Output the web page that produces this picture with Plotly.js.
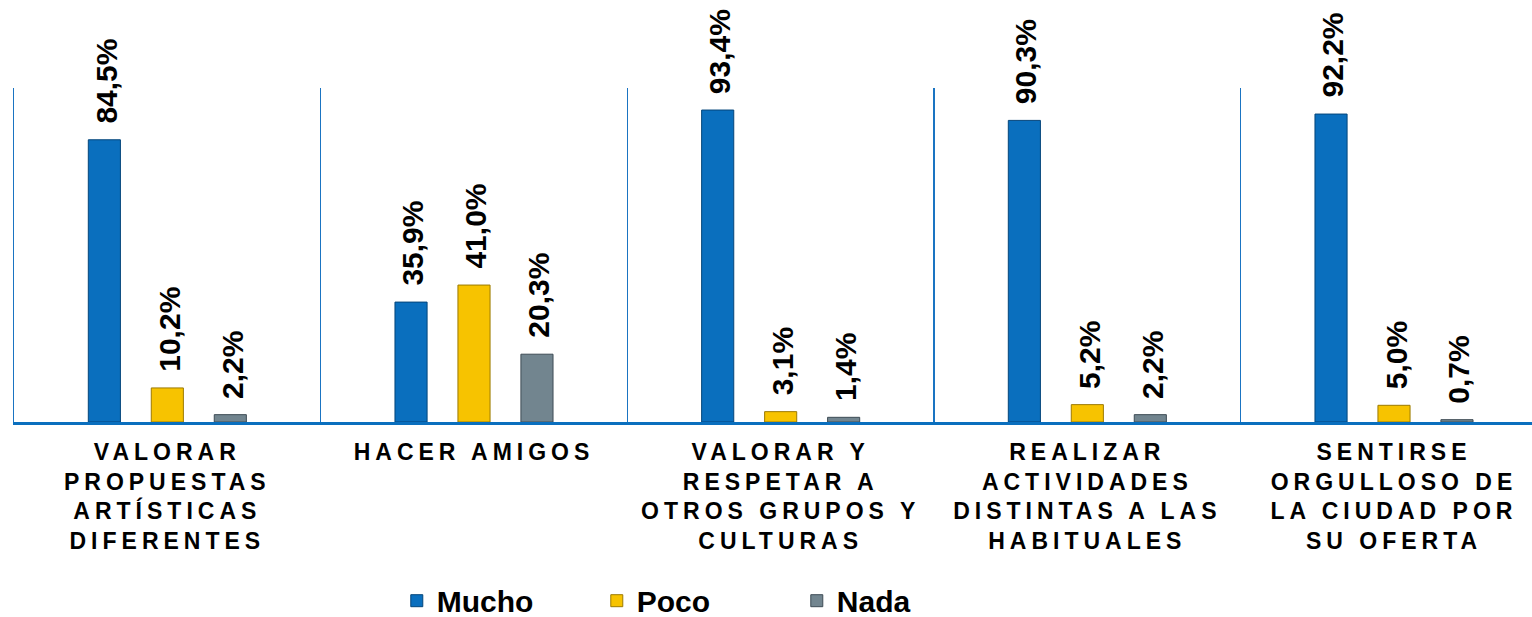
<!DOCTYPE html>
<html>
<head>
<meta charset="utf-8">
<script src="https://cdn.plot.ly/plotly-3.0.1.min.js"></script>
<style>
  html, body { margin: 0; padding: 0; background: #fff; }
  #chart { width: 1532px; height: 617px; }
  .xtick text { letter-spacing: 5px; }
</style>
</head>
<body>
<div id="chart"></div>
<script>
const categories = [
  "VALORAR<br>PROPUESTAS<br>ARTÍSTICAS<br>DIFERENTES",
  "HACER AMIGOS",
  "VALORAR Y<br>RESPETAR A<br>OTROS GRUPOS Y<br>CULTURAS",
  "REALIZAR<br>ACTIVIDADES<br>DISTINTAS A LAS<br>HABITUALES",
  "SENTIRSE<br>ORGULLOSO DE<br>LA CIUDAD POR<br>SU OFERTA"
];
const seriesNames = ["Mucho", "Poco", "Nada"];
const mucho = [84.5, 35.9, 93.4, 90.3, 92.2];
const poco  = [10.2, 41.0, 3.1, 5.2, 5.0];
const nada  = [2.2, 20.3, 1.4, 2.2, 0.7];

const seriesValues = [mucho, poco, nada];
const fills = ["#0A6FBE", "#F7C300", "#72858F"];
const edges = ["#04457A", "#9C7A00", "#3E4C55"];
const FONT = '"Liberation Sans", Arial, sans-serif';

const traces = seriesValues.map((vals, i) => ({
  type: "bar",
  name: seriesNames[i],
  x: categories,
  y: vals,
  marker: { color: fills[i], line: { color: edges[i], width: 1 } },
  hoverinfo: "skip"
}));

const fmt = v => v.toFixed(1).replace(".", ",") + "%";
const slotPx = 63;
const annotations = [];
seriesValues.forEach((vals, i) => {
  vals.forEach((v, j) => {
    annotations.push({
      x: categories[j], y: v, xref: "x", yref: "y",
      text: fmt(v), showarrow: false, textangle: -90,
      xanchor: "center", yanchor: "bottom",
      xshift: (i - 1) * slotPx + 2, yshift: 14,
      font: { family: FONT, size: 30, weight: "bold", color: "#000" }
    });
  });
});

const layout = {
  width: 1532, height: 617,
  margin: { l: 14, r: 0, t: 88, b: 195, autoexpand: false },
  paper_bgcolor: "#fff", plot_bgcolor: "#fff",
  barmode: "group", bargap: 0.384, bargroupgap: 0.49,
  showlegend: true,
  legend: {
    orientation: "h", xref: "container", yref: "paper",
    x: 0.259, xanchor: "left", y: -0.535, yanchor: "middle",
    entrywidth: 155, entrywidthmode: "pixels",
    font: { family: FONT, size: 30, weight: "bold", color: "#000" },
    bgcolor: "rgba(0,0,0,0)"
  },
  xaxis: {
    type: "category", range: [-0.5, 4.45],
    tickson: "boundaries", showgrid: true, gridcolor: "#1A74C2", gridwidth: 1.5,
    showline: true, linecolor: "#0A6FBE", linewidth: 3,
    ticks: "", zeroline: false, automargin: false,
    ticklabelstandoff: 7,
    tickfont: { family: FONT, size: 23, weight: "bold", color: "#000" },
    tickangle: 0
  },
  yaxis: {
    range: [0, 100], showgrid: false, showticklabels: false, zeroline: false,
    showline: true, linecolor: "#1A74C2", linewidth: 1.5, ticks: ""
  },
  annotations: annotations
};

Plotly.newPlot("chart", traces, layout, { displayModeBar: false, staticPlot: true });
</script>
</body>
</html>
